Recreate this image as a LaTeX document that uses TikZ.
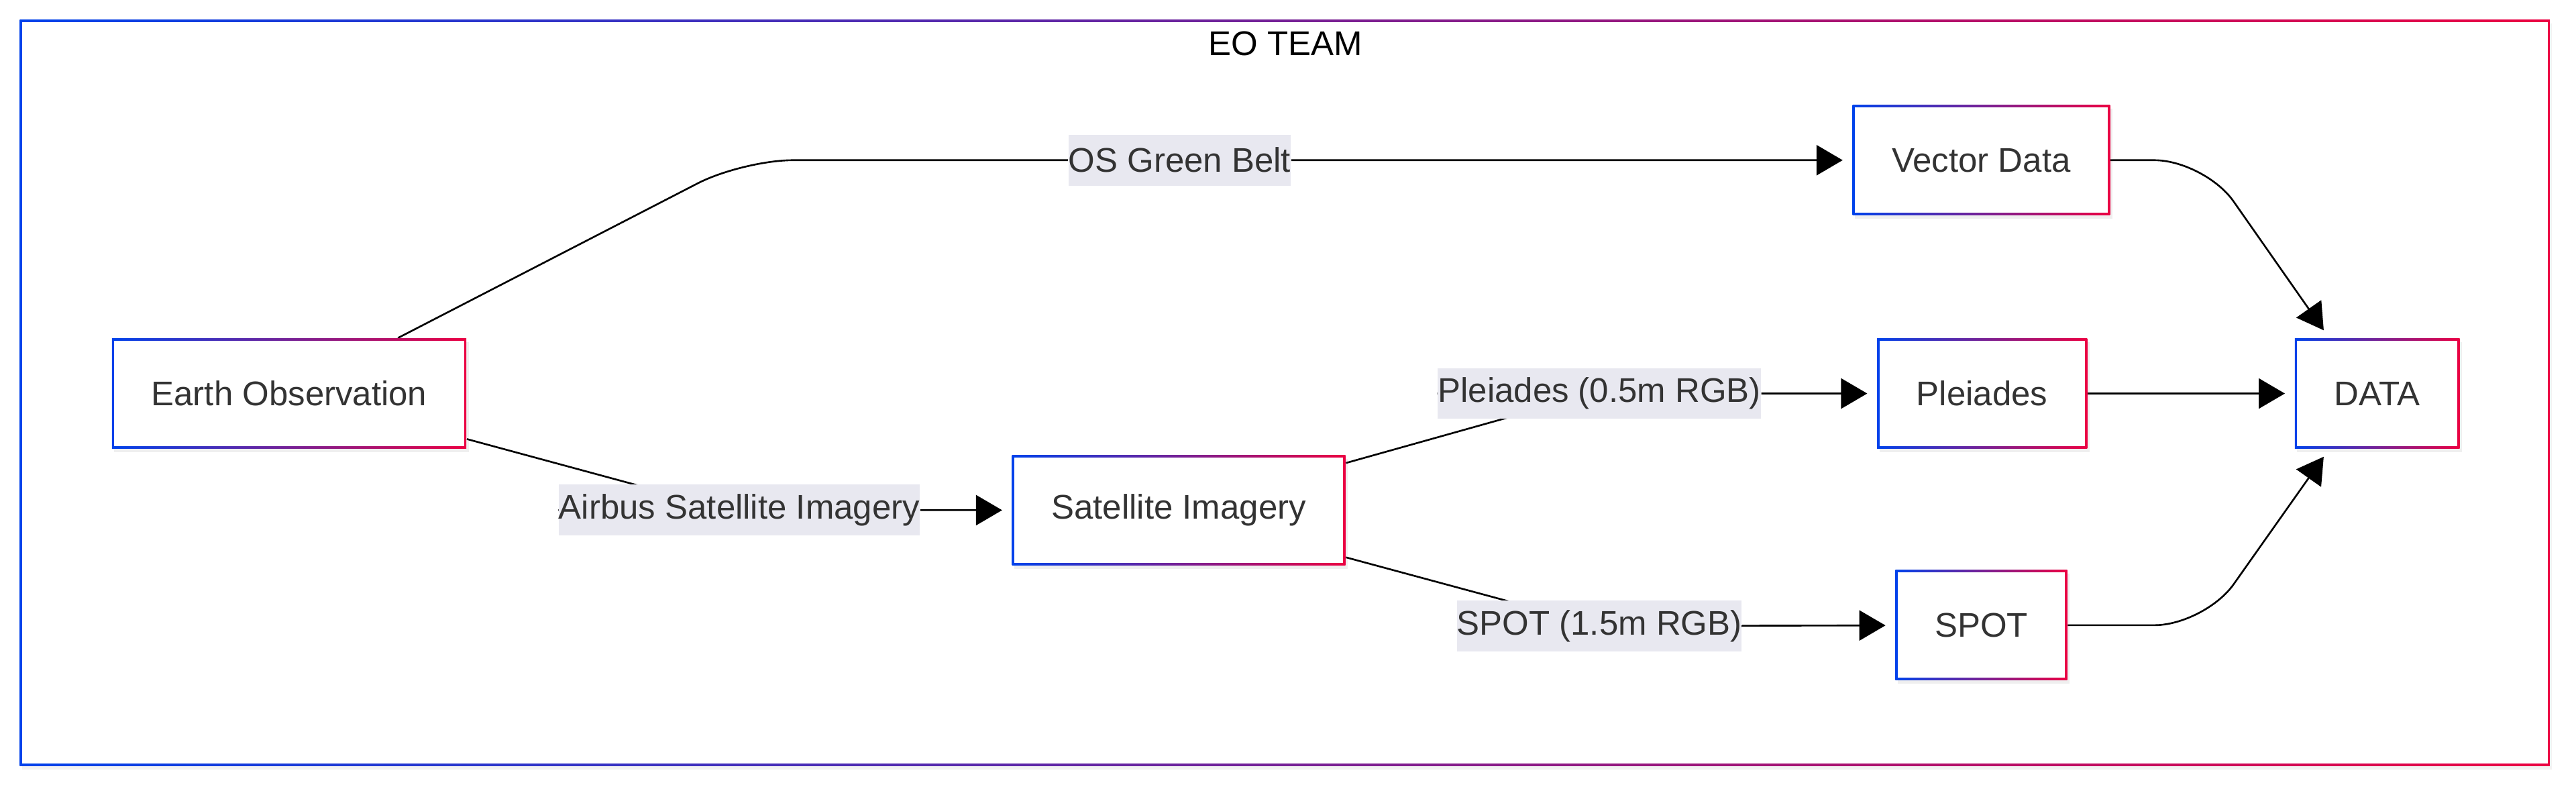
\documentclass[tikz,border=0pt]{standalone}
\usepackage{fontspec}
\setmainfont{Liberation Sans}
\usetikzlibrary{arrows.meta,shadows,backgrounds,calc}

\definecolor{eoblue}{HTML}{0042EB}
\definecolor{eored}{HTML}{EB0042}
\definecolor{eotext}{HTML}{333333}
\definecolor{eolabel}{RGB}{232,232,240}

\tikzset{
	gradbox/.style={
		inner xsep=0.588cm, minimum height=1.641cm, text=eotext,
		font=\fontsize{14.5}{17}\selectfont,
		drop shadow={opacity=0.12, shadow xshift=1pt, shadow yshift=-1.5pt},
		fill=white,
		path picture={
			\shade[left color=eoblue, right color=eored]
				(path picture bounding box.south west) rectangle (path picture bounding box.north east);
			\fill[white]
				([shift={(1pt,1pt)}]path picture bounding box.south west) rectangle
				([shift={(-1pt,-1pt)}]path picture bounding box.north east);
		}},
	edgelabel/.style={fill=eolabel, inner xsep=0pt, minimum height=0.759cm, text=eotext,
		font=\fontsize{14.5}{17}\selectfont},
	flow/.style={line width=0.75pt, rounded corners=0.75cm,
		-{Triangle[length=0.39cm,width=0.45cm]}, shorten >=0.14cm}
}

\begin{document}
\begin{tikzpicture}[x=0.02449cm, y=-0.02449cm]
		\useasboundingbox (0,0) rectangle (1568,479.8);

		% boxes
		\node[gradbox] (earth) at (176,239.5) {Earth Observation};
		\node[gradbox] (sat) at (717.5,310.5) {Satellite Imagery};
		\node[gradbox] (vector) at (1206,97.5) {Vector Data};
		\node[gradbox] (pleiades) at (1206.5,239.5) {Pleiades};
		\node[gradbox] (spot) at (1206,380.5) {SPOT};
		\node[gradbox] (data) at (1447,239.5) {DATA};

		% edge labels
		\node[edgelabel] (lgreen) at (718,97.5) {OS Green Belt};
		\node[edgelabel] (lairbus) at (450,310.5) {Airbus Satellite Imagery};
		\node[edgelabel] (lpleiades) at (973.5,239.5) {Pleiades (0.5m RGB)};
		\node[edgelabel] (lspot) at (973.5,381) {SPOT (1.5m RGB)};

		\node[font=\fontsize{14.5}{17}\selectfont] (team) at (782.5,26.5) {EO TEAM};

		\begin{scope}[on background layer]
			\path[fill=white, drop shadow={opacity=0.1, shadow xshift=1pt, shadow yshift=-1.5pt}]
				(12,12) rectangle (1552,466);
			\shade[left color=eoblue, right color=eored] (12,12) rectangle (1552,466);
			\fill[white] (13.3,13.3) rectangle (1550.7,464.7);

			\draw[flow] ($(earth.north west)!0.806!(earth.north east)$) -- (452,97.5) -- (lgreen) -- (vector);
			\draw[flow] ($(earth.north east)!0.91!(earth.south east)$) -- (444,310.5) -- (lairbus) -- (sat);
			\draw[flow] ($(sat.north east)!0.075!(sat.south east)$) -- (970,239.5) -- (lpleiades) -- (pleiades);
			\draw[flow] ($(sat.north east)!0.925!(sat.south east)$) -- (974,381) -- (lspot) -- (spot);
			\draw[flow] (vector.east) -- (1342,97.5) -- ($(data.north west)!0.21!(data.north east)$);
			\draw[flow] (pleiades) -- (data);
			\draw[flow] (spot.east) -- (1342,380.5) -- ($(data.south west)!0.21!(data.south east)$);
		\end{scope}
	\end{tikzpicture}
\end{document}
